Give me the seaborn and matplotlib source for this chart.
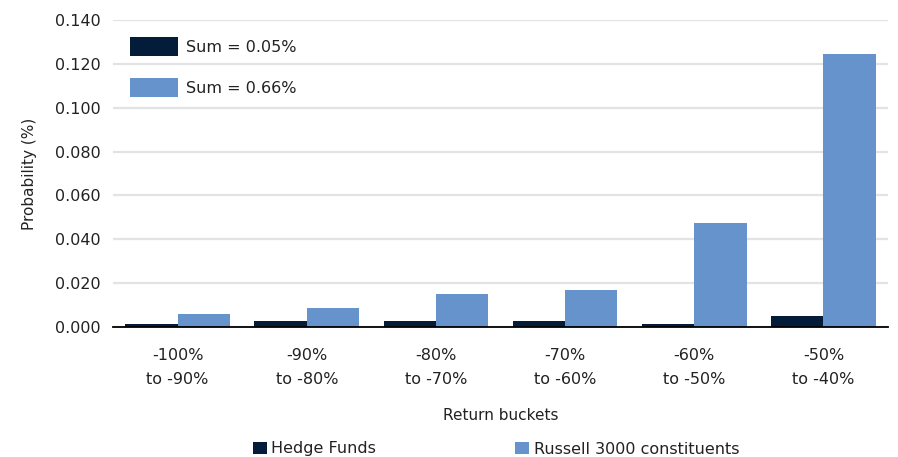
import matplotlib
matplotlib.use("Agg")
import matplotlib.pyplot as plt
from matplotlib.patches import Patch
from matplotlib.ticker import FormatStrFormatter
import seaborn as sns
import pandas as pd

# Return buckets and probabilities (%)
buckets = ["-100%\nto -90%", "-90%\nto -80%", "-80%\nto -70%",
           "-70%\nto -60%", "-60%\nto -50%", "-50%\nto -40%"]
hedge_funds = [0.0015, 0.0028, 0.0028, 0.0028, 0.0015, 0.0049]
russell_3000 = [0.0060, 0.0087, 0.0150, 0.0170, 0.0475, 0.1245]
series_names = ["Hedge Funds", "Russell 3000 constituents"]
sum_labels = ["Sum = 0.05%", "Sum = 0.66%"]
y_ticks = [0.0, 0.02, 0.04, 0.06, 0.08, 0.10, 0.12, 0.14]

colors = ["#021C3A", "#6793CD"]

df = pd.DataFrame({
    "bucket": buckets * 2,
    "series": [series_names[0]] * len(buckets) + [series_names[1]] * len(buckets),
    "prob": hedge_funds + russell_3000,
})

sns.set_theme(style="white")
plt.rcParams["font.family"] = ["DejaVu Sans"]
plt.rcParams["text.color"] = "#222222"

fig = plt.figure(figsize=(8.98, 4.57), dpi=100)
ax = fig.add_axes([113 / 898, 1 - 327 / 457, 775 / 898, 307 / 457])

sns.barplot(data=df, x="bucket", y="prob", hue="series", order=buckets,
            hue_order=series_names, palette=colors, width=0.81,
            saturation=1, linewidth=0, edgecolor="none",
            ax=ax, legend=False, zorder=2)

ax.set_ylim(0, 0.14)
ax.set_yticks(y_ticks)
ax.yaxis.set_major_formatter(FormatStrFormatter("%.3f"))
ax.set_xlim(-0.5, len(buckets) - 0.5)
ax.grid(axis="y", color="#e3e3e3", linewidth=1.6, zorder=0)
ax.set_axisbelow(True)
for side in ["top", "right", "left"]:
    ax.spines[side].set_visible(False)
ax.spines["bottom"].set_color("black")
ax.spines["bottom"].set_linewidth(1.3)
ax.spines["bottom"].set_zorder(3)
ax.tick_params(axis="both", length=0, labelsize=11.5, colors="#222222")
ax.tick_params(axis="x", pad=15)
ax.tick_params(axis="y", pad=9)
for lbl in ax.get_xticklabels():
    lbl.set_linespacing(1.75)

ax.set_xlabel("Return buckets", fontsize=11, labelpad=15, color="#222222")
ax.set_ylabel("Probability (%)", fontsize=11, labelpad=13, color="#222222")

# Sum annotations as an in-plot legend
sum_handles = [Patch(facecolor=c, edgecolor="none") for c in colors]
ax.legend(sum_handles, sum_labels, loc="upper left",
          bbox_to_anchor=(0.004, 0.992), frameon=False, fontsize=11.5,
          handlelength=3.0, handleheight=1.5, handletextpad=0.45,
          labelspacing=1.35)

# Series legend below the chart
series_handles = [Patch(facecolor=c, edgecolor="none") for c in colors]
fig.legend(series_handles, series_names, loc="center", ncol=2,
           bbox_to_anchor=(496 / 898, 1 - 449 / 457), frameon=False,
           fontsize=11.5, handlelength=0.85, handleheight=0.85,
           handletextpad=0.3, columnspacing=8.7)

fig.savefig("out.png", dpi=100)
